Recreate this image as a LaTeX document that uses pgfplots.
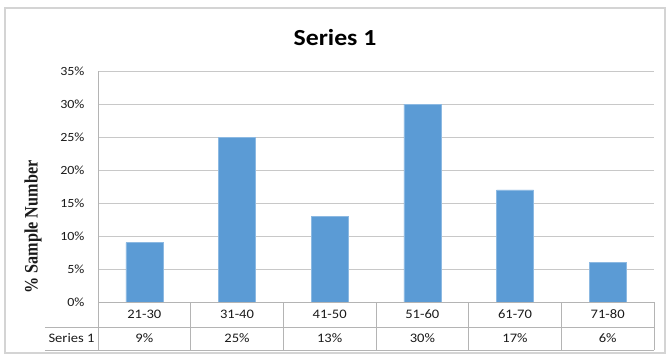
\documentclass[border=0pt]{standalone}
\usepackage{pgfplots}
\pgfplotsset{compat=1.18}
\usepackage{fontspec}
\setmainfont{Carlito}[FakeStretch=1.12]
\newfontfamily\serifb{Liberation Serif}[FakeStretch=0.85]
\definecolor{barblue}{HTML}{5B9BD5}
\definecolor{gridgray}{HTML}{C8C8C8}
\definecolor{tablegray}{HTML}{B4B4B4}
\definecolor{framegray}{HTML}{D4D4D4}
\definecolor{txt}{HTML}{1A1A1A}
\begin{document}
\begin{tikzpicture}
\useasboundingbox (-98pt,-58pt) rectangle (573pt,302pt);
\draw[framegray, line width=1.2pt] (-93pt,-51pt) rectangle (567pt,294pt);
\begin{axis}[
  at={(0pt,0pt)}, anchor=south west,
  scale only axis, width=556pt, height=231pt,
  xmin=-0.5, xmax=5.5, ymin=0, ymax=35,
  /pgf/number format/assume math mode=true,
  ytick={0,5,...,35},
  yticklabel={\pgfmathprintnumber{\tick}\%},
  yticklabel style={font=\fontsize{12.5}{14}\selectfont, text=txt, anchor=east, xshift=-10pt},
  xtick={0,1,2,3,4,5},
  xticklabels={21-30,31-40,41-50,51-60,61-70,71-80},
  xticklabel style={font=\fontsize{13}{15}\selectfont, text=txt, anchor=center, yshift=-12.5pt},
  extra x ticks={0,1,2,3,4,5},
  extra x tick labels={9\%,25\%,13\%,30\%,17\%,6\%},
  extra x tick style={grid=none, xticklabel style={yshift=-23.5pt}},
  major tick length=0pt,
  ymajorgrids, grid style={gridgray, line width=1pt},
  axis line style={draw=none},
  clip=false,
]
\addplot[ybar, bar width=37pt, fill=barblue, draw=barblue!70!white] coordinates {(0,9) (1,25) (2,13) (3,30) (4,17) (5,6)};
\end{axis}
% table lines
\draw[tablegray, line width=1pt] (0pt,231pt) -- (0pt,-48pt);
\foreach \k in {1,...,6} {\draw[tablegray, line width=1pt] (\k*92.667pt,0pt) -- (\k*92.667pt,-48pt);}
\draw[tablegray, line width=1pt] (0pt,0pt) -- (556pt,0pt);
\draw[tablegray, line width=1pt] (-53pt,-25pt) -- (556pt,-25pt);
\draw[tablegray, line width=1pt] (-53pt,-48pt) -- (556pt,-48pt);
\node[font=\fontsize{13}{15}\selectfont, text=txt] at (-26.5pt,-36.5pt) {Series 1};
\node[font=\bfseries\fontsize{23}{27}\selectfont, text=black] at (237pt,264pt) {Series 1};
\node[rotate=90, font=\serifb\bfseries\fontsize{19}{21}\selectfont, text=txt] at (-65pt,75pt) {\% Sample Number};
\end{tikzpicture}
\end{document}
